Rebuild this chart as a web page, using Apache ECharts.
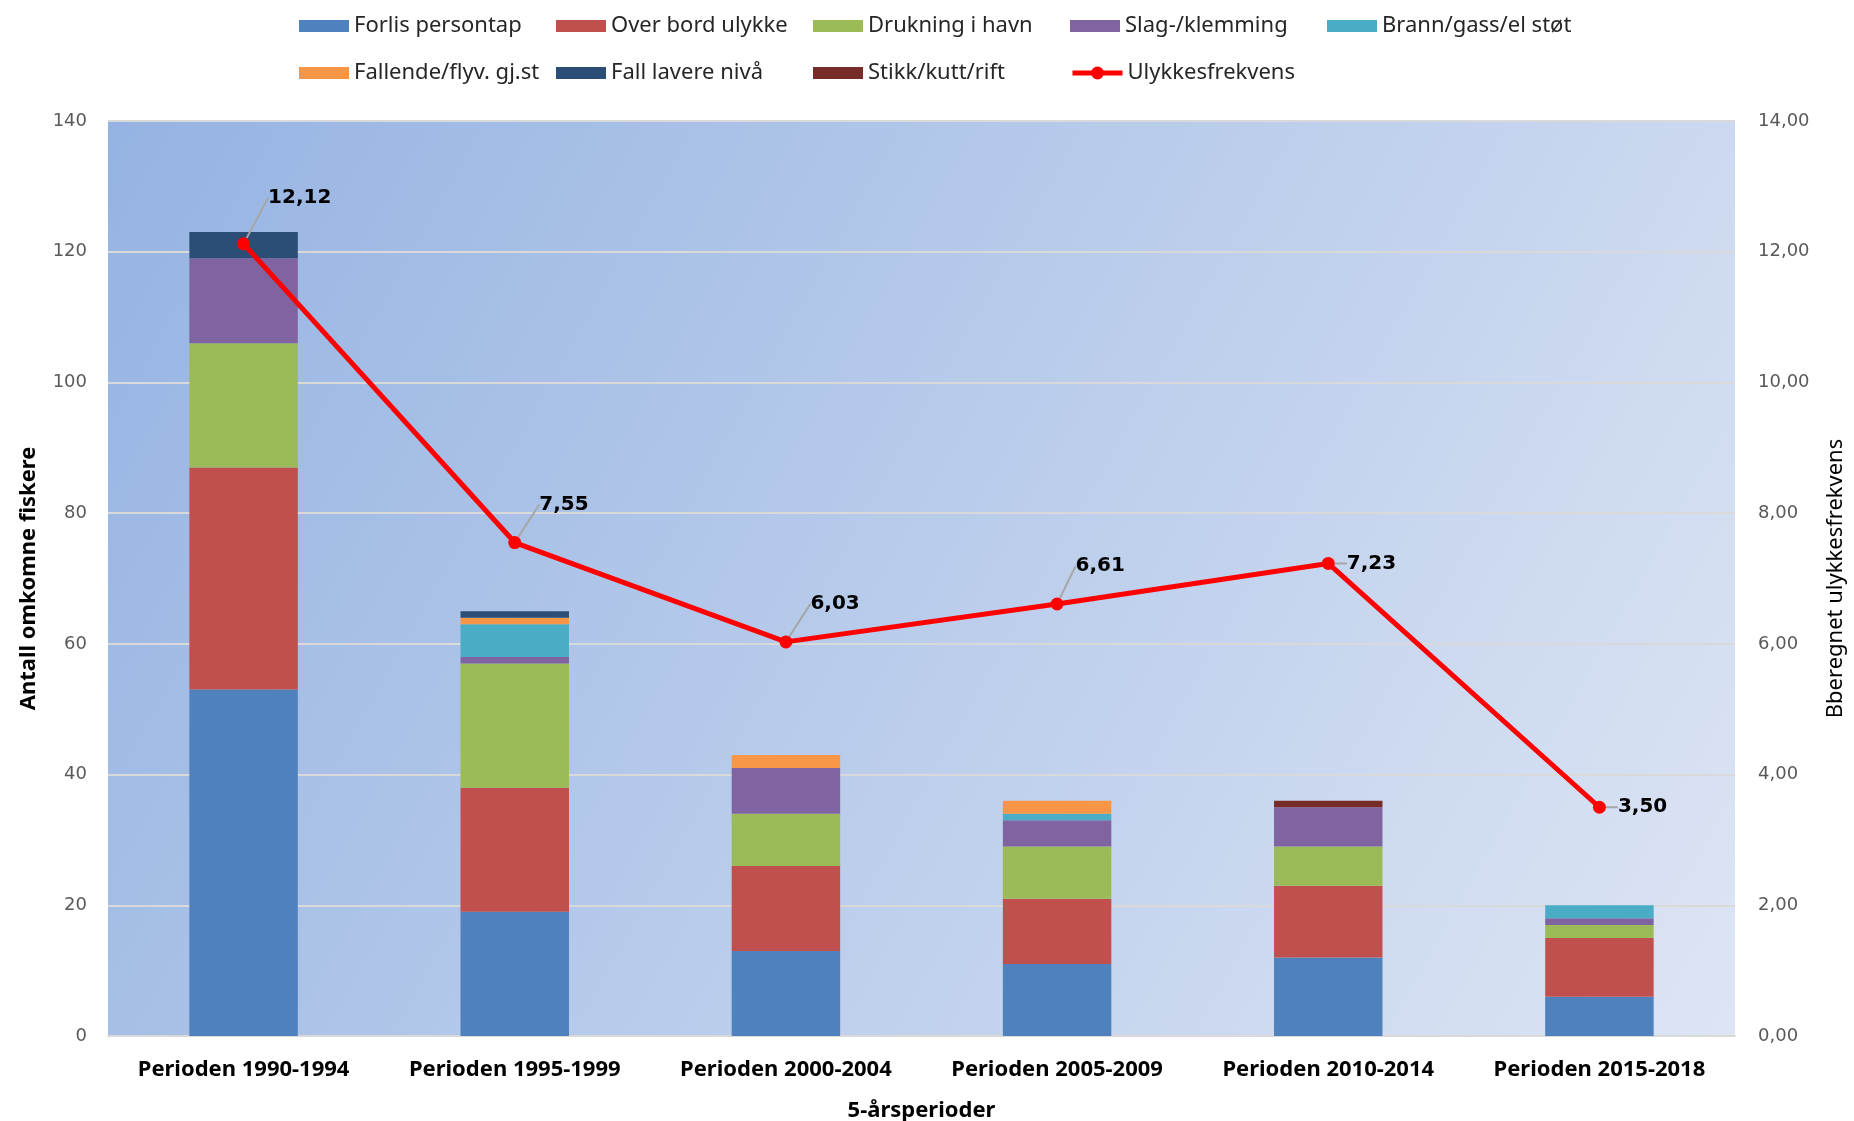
<!DOCTYPE html>
<html>
<head>
<meta charset="utf-8">
<script src="https://cdn.jsdelivr.net/npm/echarts@6/dist/echarts.min.js"></script>
<style>
  html, body { margin: 0; padding: 0; background: #ffffff; }
  #chart { width: 1854px; height: 1121px; }
</style>
</head>
<body>
<div id="chart"></div>
<script>
var categories = ['Perioden 1990-1994', 'Perioden 1995-1999', 'Perioden 2000-2004', 'Perioden 2005-2009', 'Perioden 2010-2014', 'Perioden 2015-2018'];
var forlisPersontap = [53, 19, 13, 11, 12, 6];
var overBordUlykke = [34, 19, 13, 10, 11, 9];
var drukningIHavn = [19, 19, 8, 8, 6, 2];
var slagKlemming = [13, 1, 7, 4, 6, 1];
var brannGassElStot = [0, 5, 0, 1, 0, 2];
var fallendeFlyvGjst = [0, 1, 2, 2, 0, 0];
var fallLavereNiva = [4, 1, 0, 0, 0, 0];
var stikkKuttRift = [0, 0, 0, 0, 1, 0];
var ulykkesfrekvens = [12.12, 7.55, 6.03, 6.61, 7.23, 3.50];
var leftTicks = [0, 20, 40, 60, 80, 100, 120, 140];
var rightTicks = [0, 2, 4, 6, 8, 10, 12, 14];

var barSeries = [
  ['Forlis persontap', forlisPersontap, '#4f81bd'],
  ['Over bord ulykke', overBordUlykke, '#c0504d'],
  ['Drukning i havn', drukningIHavn, '#9bbb59'],
  ['Slag-/klemming', slagKlemming, '#8064a2'],
  ['Brann/gass/el støt', brannGassElStot, '#4bacc6'],
  ['Fallende/flyv. gj.st', fallendeFlyvGjst, '#f79646'],
  ['Fall lavere nivå', fallLavereNiva, '#2c4d75'],
  ['Stikk/kutt/rift', stikkKuttRift, '#772c2a']
];
var lineName = 'Ulykkesfrekvens';

var textFont = "'Noto Sans', 'Open Sans', sans-serif";
var numFont = "'DejaVu Sans', Verdana, sans-serif";

var series = barSeries.map(function (s) {
  return {
    name: s[0],
    type: 'bar',
    stack: 'total',
    yAxisIndex: 0,
    barWidth: '40%',
    data: s[1].map(function (v) { return v === 0 ? null : v; }),
    itemStyle: { color: s[2] }
  };
});

var labelDy = [-46, -38, -38, -38, 0, 0];
var labelDx = [6, 6, 6, 0, 0, 0];

series.push({
  name: lineName,
  type: 'line',
  yAxisIndex: 1,
  data: ulykkesfrekvens,
  symbol: 'circle',
  symbolSize: 13,
  z: 10,
  lineStyle: { color: '#ff0000', width: 5 },
  itemStyle: { color: '#ff0000' },
  label: {
    show: true,
    position: 'right',
    distance: 12,
    fontFamily: numFont,
    fontWeight: 'bold',
    fontSize: 20,
    color: '#000000',
    formatter: function (p) { return p.value.toFixed(2).replace('.', ','); }
  },
  labelLine: { show: true, lineStyle: { color: '#a6a6a6', width: 2 } },
  labelLayout: function (p) {
    return { dx: labelDx[p.dataIndex], dy: labelDy[p.dataIndex] };
  }
});

// legend grid: 5 columns, 2 rows
var legendNames = barSeries.map(function (s) { return s[0]; }).concat([lineName]);
var colLefts = [294, 551, 808, 1065, 1322];
var rowTops = [10, 57];
var legends = legendNames.map(function (n, i) {
  var item = { name: n };
  var isLine = n === lineName;
  if (!isLine) item.icon = 'rect';
  else item.lineStyle = { width: 5 };
  return {
    left: colLefts[i % 5],
    top: rowTops[Math.floor(i / 5)],
    itemWidth: 50,
    itemHeight: isLine ? 16 : 12,
    itemGap: 0,
    textStyle: { fontFamily: textFont, fontSize: 22, color: '#262626', padding: [0, 0, 0, 0] },
    data: [item]
  };
});

var chart = echarts.init(document.getElementById('chart'));
chart.setOption({
  animation: false,
  backgroundColor: '#ffffff',
  legend: legends,
  grid: {
    left: 108, right: 119, top: 121, bottom: 85,
    outerBoundsMode: 'none',
    containLabel: false,
    show: true,
    borderWidth: 0,
    backgroundColor: new echarts.graphic.LinearGradient(0, 0, 1, 1, [
      { offset: 0, color: '#95b3e2' },
      { offset: 1, color: '#dde5f4' }
    ])
  },
  xAxis: {
    type: 'category',
    data: categories,
    name: '5-årsperioder',
    nameLocation: 'middle',
    nameGap: 64,
    nameTextStyle: { fontFamily: textFont, fontWeight: 'bold', fontSize: 22, color: '#000000' },
    axisLine: { show: true, lineStyle: { color: '#d9d9d9', width: 2 } },
    axisTick: { show: false },
    axisLabel: { interval: 0, margin: 23, fontFamily: textFont, fontWeight: 'bold', fontSize: 22, color: '#000000' }
  },
  yAxis: [
    {
      type: 'value',
      min: leftTicks[0],
      max: leftTicks[leftTicks.length - 1],
      interval: 20,
      name: 'Antall omkomne fiskere',
      nameLocation: 'middle',
      nameGap: 68,
      nameRotate: 90,
      nameTextStyle: { fontFamily: textFont, fontWeight: 'bold', fontSize: 22, color: '#000000' },
      axisLine: { show: false },
      axisTick: { show: false },
      axisLabel: { margin: 21, fontFamily: numFont, fontSize: 18, color: '#595959' },
      splitLine: { show: true, lineStyle: { color: '#d9d9d9', width: 2 } }
    },
    {
      type: 'value',
      min: rightTicks[0],
      max: rightTicks[rightTicks.length - 1],
      interval: 2,
      position: 'right',
      name: 'Bberegnet ulykkesfrekvens',
      nameLocation: 'middle',
      nameGap: 90,
      nameRotate: 90,
      nameTextStyle: { fontFamily: textFont, fontSize: 22, color: '#000000' },
      axisLine: { show: false },
      axisTick: { show: false },
      axisLabel: {
        margin: 23, fontFamily: numFont, fontSize: 18, color: '#595959',
        formatter: function (v) { return v.toFixed(2).replace('.', ','); }
      },
      splitLine: { show: false }
    }
  ],
  series: series
});
</script>
</body>
</html>
